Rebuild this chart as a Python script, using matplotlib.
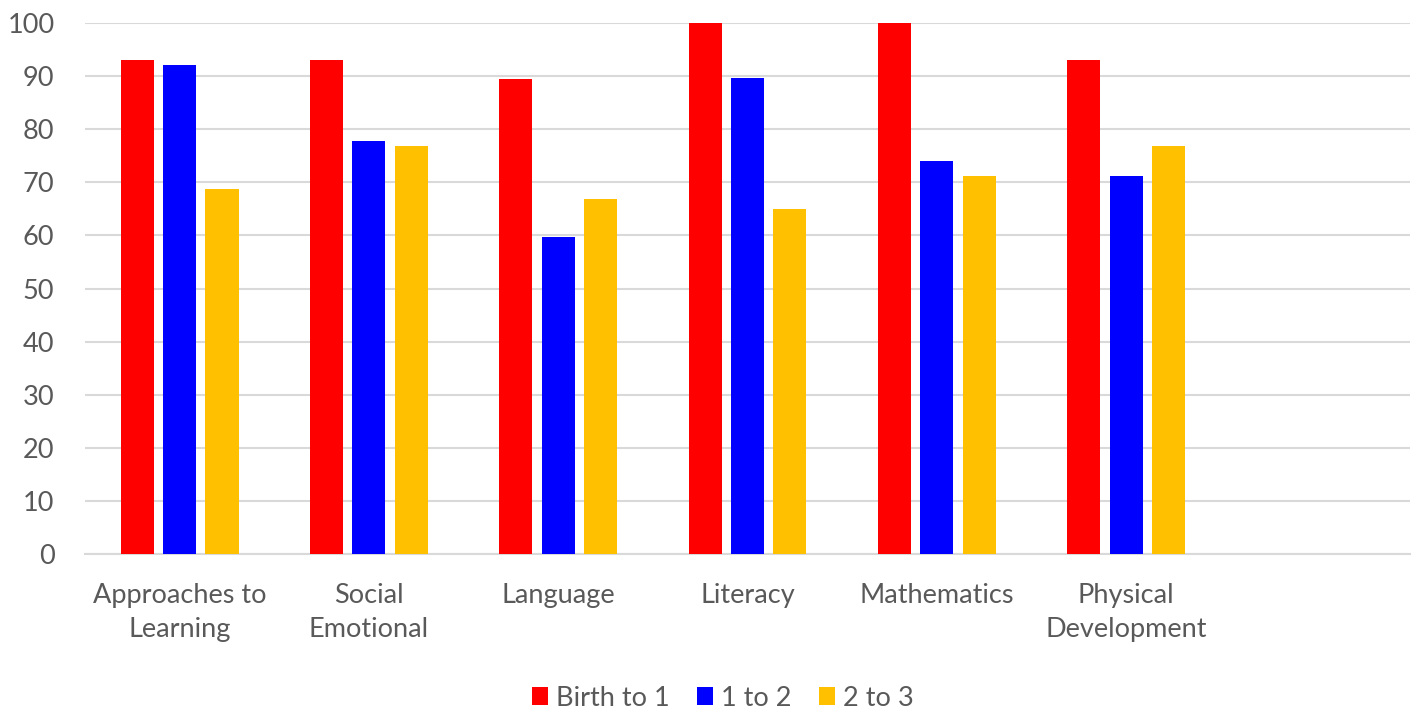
import matplotlib
matplotlib.use("Agg")
import matplotlib.pyplot as plt
import numpy as np

categories = ["Approaches to\nLearning", "Social\nEmotional", "Language", "Literacy",
              "Mathematics", "Physical\nDevelopment", ""]
series_names = ["Birth to 1", "1 to 2", "2 to 3"]
birth_to_1 = [93, 93, 89.5, 100, 100, 93, np.nan]
one_to_2 = [92, 77.8, 59.7, 89.6, 74, 71.1, np.nan]
two_to_3 = [68.8, 76.8, 66.8, 64.9, 71.1, 76.8, np.nan]
colors = ["#FF0000", "#0000FF", "#FFC000"]
yticks = list(range(0, 101, 10))

plt.rcParams['font.family'] = ['Lato', 'DejaVu Sans']

fig = plt.figure(figsize=(14.18, 7.15), dpi=100)
ax = fig.add_axes([85/1418, 1 - 554/715, (1410-85)/1418, (554-23)/715])

x = np.arange(len(categories))
step = 0.224
width = 0.175
for i, (vals, name, c) in enumerate(zip([birth_to_1, one_to_2, two_to_3], series_names, colors)):
    ax.bar(x + (i - 1) * step, vals, width, color=c, label=name, zorder=3)

ax.set_xlim(-0.5, len(categories) - 0.5)
ax.set_ylim(0, 100)
ax.set_yticks(yticks)
ax.yaxis.grid(True, color="#D9D9D9", linewidth=1.5, zorder=0)
ax.set_axisbelow(True)
for s in ["top", "right", "left"]:
    ax.spines[s].set_visible(False)
ax.spines["bottom"].set_color("#D9D9D9")
ax.spines["bottom"].set_linewidth(1.5)
ax.tick_params(axis="both", length=0, labelsize=19.5, labelcolor="#595959")
ax.tick_params(axis="y", pad=22)
ax.tick_params(axis="x", pad=21)
ax.set_xticks(x)
ax.set_xticklabels(categories, linespacing=1.45)

leg = fig.legend(loc="center", bbox_to_anchor=(723/1418, 1 - 698/715), ncol=3, frameon=False,
                 fontsize=19.5, handlelength=0.6, handleheight=0.6, handletextpad=0.3,
                 columnspacing=1.0, labelcolor="#595959")

fig.savefig("out.png", dpi=100)
